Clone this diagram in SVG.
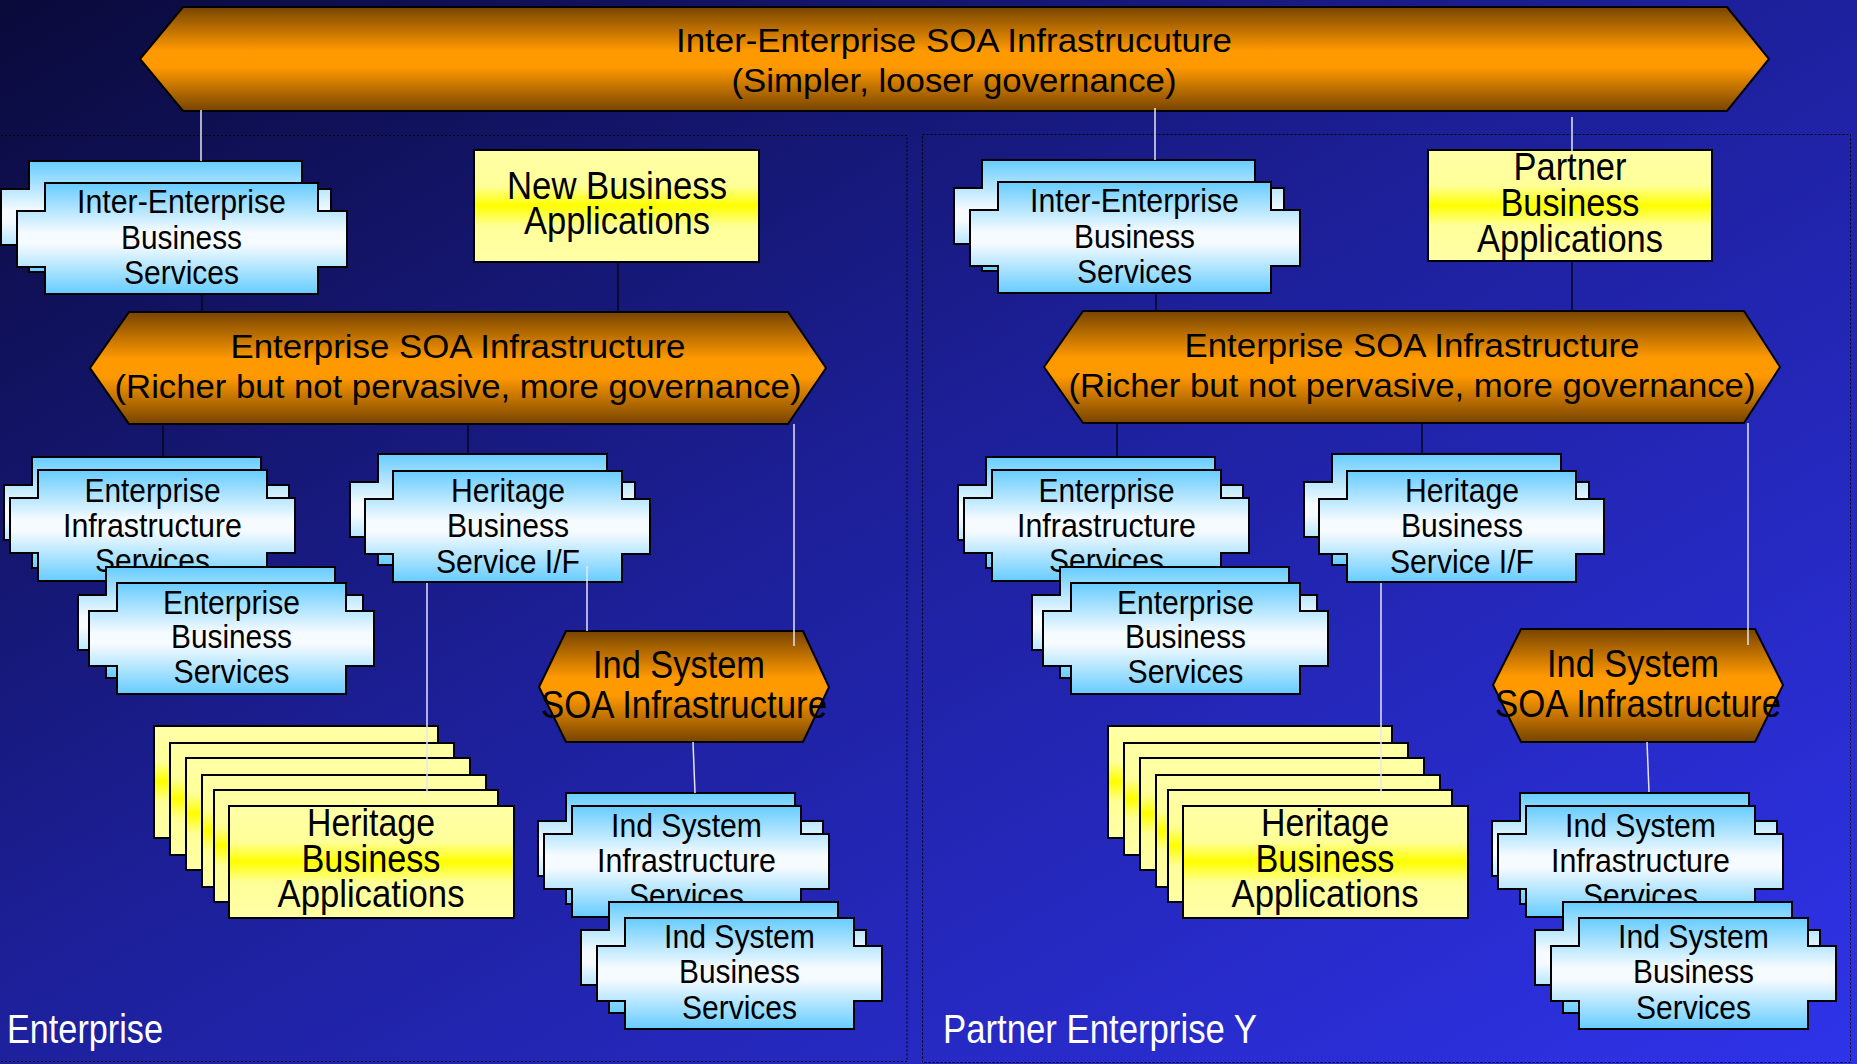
<svg xmlns="http://www.w3.org/2000/svg" xmlns:xlink="http://www.w3.org/1999/xlink" width="1857" height="1064" viewBox="0 0 1857 1064">
<defs>
<linearGradient id="gBg" x1="0" y1="0" x2="1" y2="1">
<stop offset="0" stop-color="#0a0a3a"/>
<stop offset="0.45" stop-color="#1c1f96"/>
<stop offset="1" stop-color="#2f33ea"/>
</linearGradient>
<linearGradient id="gBlue" x1="0" y1="0" x2="0" y2="1">
<stop offset="0" stop-color="#66ccff"/>
<stop offset="0.45" stop-color="#f6fbff"/>
<stop offset="0.55" stop-color="#f6fbff"/>
<stop offset="1" stop-color="#66ccff"/>
</linearGradient>
<linearGradient id="gYel" x1="0" y1="0" x2="0" y2="1">
<stop offset="0" stop-color="#ffffa6"/>
<stop offset="0.32" stop-color="#ffff99"/>
<stop offset="0.5" stop-color="#ffff00"/>
<stop offset="0.68" stop-color="#ffff99"/>
<stop offset="1" stop-color="#ffffa6"/>
</linearGradient>
<linearGradient id="gOr" x1="0" y1="0" x2="0" y2="1">
<stop offset="0" stop-color="#774400"/>
<stop offset="0.42" stop-color="#ff9900"/>
<stop offset="0.58" stop-color="#ff9900"/>
<stop offset="1" stop-color="#774400"/>
</linearGradient>
<path id="sS" d="M0,0H229V28H257V83H229V111H0V83H-28V28H0Z"/>
<path id="sB" d="M0,0H273V28H302V84H273V111H0V84H-28V28H0Z"/>
<rect id="rA" width="284" height="112"/>
</defs>
<style>
.t{font-family:"Liberation Sans Narrow","Liberation Sans",Arial,sans-serif;fill:#000;text-anchor:middle}
.f32{font-size:32px}.f34{font-size:34px}.f38{font-size:38px}.f40{font-size:39px}
.lbl{font-family:"Liberation Sans Narrow","Liberation Sans",Arial,sans-serif;fill:#fff;font-size:41px}
.svc{fill:url(#gBlue);stroke:#000;stroke-width:2}
.app{fill:url(#gYel);stroke:#000;stroke-width:2}
.soa{fill:url(#gOr);stroke:#000;stroke-width:2}
.region{fill:none;stroke:#000;stroke-width:1;stroke-dasharray:2 2}
.lw{stroke:#e4e4f4;stroke-width:1.5;fill:none}
.ld{stroke:#06061c;stroke-width:1.5;fill:none}
</style>
<rect width="1857" height="1064" fill="url(#gBg)"/>
<g id="regions">
<rect class="region" x="-3" y="135.5" width="910" height="926"/>
<rect class="region" x="922.5" y="134.5" width="928" height="928"/>
<text class="lbl" x="7" y="1043" textLength="156" lengthAdjust="spacingAndGlyphs">Enterprise</text>
<text class="lbl" x="943" y="1043" textLength="314" lengthAdjust="spacingAndGlyphs">Partner Enterprise Y</text>
</g>
<g id="inter-soa">
<polygon class="soa" points="140,59 183,7 1727,7 1769,59 1727,111 183,111"/>
<text class="t f34" x="954" y="52" textLength="556" lengthAdjust="spacingAndGlyphs">Inter-Enterprise SOA Infrastrucuture</text>
<text class="t f34" x="954" y="92" textLength="445" lengthAdjust="spacingAndGlyphs">(Simpler, looser governance)</text>
</g>
<g id="iebs-l">
<use href="#sB" x="29" y="161" class="svc"/>
<use href="#sB" x="45" y="183" class="svc"/>
<text class="t f34" x="181.5" y="213" textLength="209" lengthAdjust="spacingAndGlyphs">Inter-Enterprise</text>
<text class="t f34" x="181.5" y="249" textLength="121" lengthAdjust="spacingAndGlyphs">Business</text>
<text class="t f34" x="181.5" y="284" textLength="115" lengthAdjust="spacingAndGlyphs">Services</text>
</g>
<g id="nba">
<rect class="app" x="474" y="150" width="285" height="112"/>
<text class="t f38" x="617" y="199" textLength="220" lengthAdjust="spacingAndGlyphs">New Business</text>
<text class="t f38" x="617" y="234" textLength="186" lengthAdjust="spacingAndGlyphs">Applications</text>
</g>
<g id="esoa-l">
<polygon class="soa" points="90,368 129,312 788,312 826,368 788,424 129,424"/>
<text class="t f34" x="458" y="358" textLength="455" lengthAdjust="spacingAndGlyphs">Enterprise SOA Infrastructure</text>
<text class="t f34" x="458" y="398" textLength="687" lengthAdjust="spacingAndGlyphs">(Richer but not pervasive, more governance)</text>
</g>
<g id="eis-l">
<use href="#sS" x="32" y="457" class="svc"/>
<use href="#sS" x="38" y="470" class="svc"/>
<text class="t f34" x="152.5" y="502" textLength="136" lengthAdjust="spacingAndGlyphs">Enterprise</text>
<text class="t f34" x="152.5" y="537" textLength="179" lengthAdjust="spacingAndGlyphs">Infrastructure</text>
<text class="t f34" x="152.5" y="572" textLength="115" lengthAdjust="spacingAndGlyphs">Services</text>
</g>
<g id="ebs-l">
<use href="#sS" x="106" y="567" class="svc"/>
<use href="#sS" x="117" y="583" class="svc"/>
<text class="t f34" x="231.5" y="614" textLength="137" lengthAdjust="spacingAndGlyphs">Enterprise</text>
<text class="t f34" x="231.5" y="648" textLength="121" lengthAdjust="spacingAndGlyphs">Business</text>
<text class="t f34" x="231.5" y="683" textLength="116" lengthAdjust="spacingAndGlyphs">Services</text>
</g>
<g id="hbs-l">
<use href="#sS" x="378" y="454" class="svc"/>
<use href="#sS" x="393" y="471" class="svc"/>
<text class="t f34" x="508" y="502" textLength="114" lengthAdjust="spacingAndGlyphs">Heritage</text>
<text class="t f34" x="508" y="537" textLength="122" lengthAdjust="spacingAndGlyphs">Business</text>
<text class="t f34" x="508" y="573" textLength="144" lengthAdjust="spacingAndGlyphs">Service I/F</text>
</g>
<g id="hba-l">
<use href="#rA" x="154" y="726" class="app"/>
<use href="#rA" x="170" y="743" class="app"/>
<use href="#rA" x="186" y="758" class="app"/>
<use href="#rA" x="202" y="775" class="app"/>
<use href="#rA" x="214" y="790" class="app"/>
<rect class="app" x="229" y="806" width="285" height="112"/>
<text class="t f38" x="371" y="836" textLength="128" lengthAdjust="spacingAndGlyphs">Heritage</text>
<text class="t f38" x="371" y="872" textLength="139" lengthAdjust="spacingAndGlyphs">Business</text>
<text class="t f38" x="371" y="907" textLength="187" lengthAdjust="spacingAndGlyphs">Applications</text>
</g>
<g id="isoa-l">
<polygon class="soa" points="539,687 566,631 803,631 829,687 803,742 566,742"/>
<text class="t f40" x="679" y="678" textLength="172" lengthAdjust="spacingAndGlyphs">Ind System</text>
<text class="t f40" x="684" y="718" textLength="286" lengthAdjust="spacingAndGlyphs">SOA Infrastructure</text>
</g>
<g id="isis-l">
<use href="#sS" x="566" y="793" class="svc"/>
<use href="#sS" x="572" y="806" class="svc"/>
<text class="t f34" x="686.5" y="837" textLength="151" lengthAdjust="spacingAndGlyphs">Ind System</text>
<text class="t f34" x="686.5" y="872" textLength="179" lengthAdjust="spacingAndGlyphs">Infrastructure</text>
<text class="t f34" x="686.5" y="907" textLength="115" lengthAdjust="spacingAndGlyphs">Services</text>
</g>
<g id="isbs-l">
<use href="#sS" x="609" y="902" class="svc"/>
<use href="#sS" x="625" y="918" class="svc"/>
<text class="t f34" x="739.5" y="948" textLength="151" lengthAdjust="spacingAndGlyphs">Ind System</text>
<text class="t f34" x="739.5" y="983" textLength="121" lengthAdjust="spacingAndGlyphs">Business</text>
<text class="t f34" x="739.5" y="1019" textLength="115" lengthAdjust="spacingAndGlyphs">Services</text>
</g>
<g id="iebs-r">
<use href="#sB" x="982" y="160" class="svc"/>
<use href="#sB" x="998" y="182" class="svc"/>
<text class="t f34" x="1134.5" y="212" textLength="209" lengthAdjust="spacingAndGlyphs">Inter-Enterprise</text>
<text class="t f34" x="1134.5" y="248" textLength="121" lengthAdjust="spacingAndGlyphs">Business</text>
<text class="t f34" x="1134.5" y="283" textLength="115" lengthAdjust="spacingAndGlyphs">Services</text>
</g>
<g id="pba">
<rect class="app" x="1428" y="150" width="284" height="111"/>
<text class="t f38" x="1570" y="180" textLength="113" lengthAdjust="spacingAndGlyphs">Partner</text>
<text class="t f38" x="1570" y="216" textLength="139" lengthAdjust="spacingAndGlyphs">Business</text>
<text class="t f38" x="1570" y="252" textLength="186" lengthAdjust="spacingAndGlyphs">Applications</text>
</g>
<g id="esoa-r">
<polygon class="soa" points="1044,367 1083,311 1744,311 1780,367 1744,423 1083,423"/>
<text class="t f34" x="1412" y="357" textLength="455" lengthAdjust="spacingAndGlyphs">Enterprise SOA Infrastructure</text>
<text class="t f34" x="1412" y="397" textLength="687" lengthAdjust="spacingAndGlyphs">(Richer but not pervasive, more governance)</text>
</g>
<g id="eis-r">
<use href="#sS" x="986" y="457" class="svc"/>
<use href="#sS" x="992" y="470" class="svc"/>
<text class="t f34" x="1106.5" y="502" textLength="136" lengthAdjust="spacingAndGlyphs">Enterprise</text>
<text class="t f34" x="1106.5" y="537" textLength="179" lengthAdjust="spacingAndGlyphs">Infrastructure</text>
<text class="t f34" x="1106.5" y="572" textLength="115" lengthAdjust="spacingAndGlyphs">Services</text>
</g>
<g id="ebs-r">
<use href="#sS" x="1060" y="567" class="svc"/>
<use href="#sS" x="1071" y="583" class="svc"/>
<text class="t f34" x="1185.5" y="614" textLength="137" lengthAdjust="spacingAndGlyphs">Enterprise</text>
<text class="t f34" x="1185.5" y="648" textLength="121" lengthAdjust="spacingAndGlyphs">Business</text>
<text class="t f34" x="1185.5" y="683" textLength="116" lengthAdjust="spacingAndGlyphs">Services</text>
</g>
<g id="hbs-r">
<use href="#sS" x="1332" y="454" class="svc"/>
<use href="#sS" x="1347" y="471" class="svc"/>
<text class="t f34" x="1462" y="502" textLength="114" lengthAdjust="spacingAndGlyphs">Heritage</text>
<text class="t f34" x="1462" y="537" textLength="122" lengthAdjust="spacingAndGlyphs">Business</text>
<text class="t f34" x="1462" y="573" textLength="144" lengthAdjust="spacingAndGlyphs">Service I/F</text>
</g>
<g id="hba-r">
<use href="#rA" x="1108" y="726" class="app"/>
<use href="#rA" x="1124" y="743" class="app"/>
<use href="#rA" x="1140" y="758" class="app"/>
<use href="#rA" x="1156" y="775" class="app"/>
<use href="#rA" x="1168" y="790" class="app"/>
<rect class="app" x="1183" y="806" width="285" height="112"/>
<text class="t f38" x="1325" y="836" textLength="128" lengthAdjust="spacingAndGlyphs">Heritage</text>
<text class="t f38" x="1325" y="872" textLength="139" lengthAdjust="spacingAndGlyphs">Business</text>
<text class="t f38" x="1325" y="907" textLength="187" lengthAdjust="spacingAndGlyphs">Applications</text>
</g>
<g id="isoa-r">
<polygon class="soa" points="1493,685 1521,629 1755,629 1783,685 1755,742 1521,742"/>
<text class="t f40" x="1633" y="677" textLength="172" lengthAdjust="spacingAndGlyphs">Ind System</text>
<text class="t f40" x="1638" y="717" textLength="286" lengthAdjust="spacingAndGlyphs">SOA Infrastructure</text>
</g>
<g id="isis-r">
<use href="#sS" x="1520" y="793" class="svc"/>
<use href="#sS" x="1526" y="806" class="svc"/>
<text class="t f34" x="1640.5" y="837" textLength="151" lengthAdjust="spacingAndGlyphs">Ind System</text>
<text class="t f34" x="1640.5" y="872" textLength="179" lengthAdjust="spacingAndGlyphs">Infrastructure</text>
<text class="t f34" x="1640.5" y="907" textLength="115" lengthAdjust="spacingAndGlyphs">Services</text>
</g>
<g id="isbs-r">
<use href="#sS" x="1563" y="902" class="svc"/>
<use href="#sS" x="1579" y="918" class="svc"/>
<text class="t f34" x="1693.5" y="948" textLength="151" lengthAdjust="spacingAndGlyphs">Ind System</text>
<text class="t f34" x="1693.5" y="983" textLength="121" lengthAdjust="spacingAndGlyphs">Business</text>
<text class="t f34" x="1693.5" y="1019" textLength="115" lengthAdjust="spacingAndGlyphs">Services</text>
</g>
<g id="connectors">
<line class="lw" x1="201" y1="110" x2="201" y2="161"/>
<line class="ld" x1="202" y1="294" x2="202" y2="312"/>
<line class="ld" x1="618" y1="261" x2="618" y2="312"/>
<line class="ld" x1="163" y1="424" x2="163" y2="457"/>
<line class="ld" x1="468" y1="424" x2="468" y2="454"/>
<line class="lw" x1="794" y1="424" x2="794" y2="646"/>
<line class="lw" x1="427" y1="583" x2="427" y2="793"/>
<line class="lw" x1="587" y1="566" x2="587" y2="631"/>
<line class="lw" x1="693" y1="742" x2="695" y2="793"/>
<line class="lw" x1="1155" y1="108" x2="1155" y2="160"/>
<line class="ld" x1="1156" y1="293" x2="1156" y2="311"/>
<line class="lw" x1="1572" y1="117" x2="1572" y2="152"/>
<line class="ld" x1="1572" y1="261" x2="1572" y2="311"/>
<line class="ld" x1="1117" y1="423" x2="1117" y2="457"/>
<line class="ld" x1="1422" y1="423" x2="1422" y2="454"/>
<line class="lw" x1="1748" y1="423" x2="1748" y2="645"/>
<line class="lw" x1="1381" y1="583" x2="1381" y2="793"/>
<line class="lw" x1="1647" y1="742" x2="1649" y2="792"/>
</g>
</svg>
